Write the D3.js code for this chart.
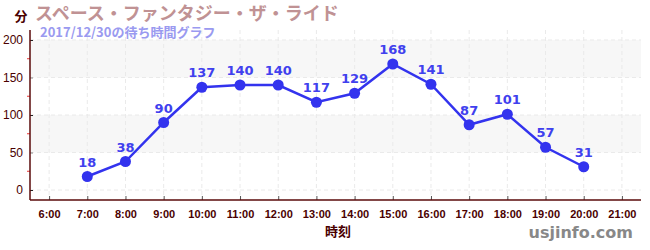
<!DOCTYPE html>
<html>
<head>
<meta charset="utf-8">
<script src="https://cdn.jsdelivr.net/npm/d3@7"></script>
<style>
  body { margin: 0; background: #fff; }
  svg { font-family: "Noto Sans CJK JP", "Noto Sans", sans-serif; }
</style>
</head>
<body>
<div id="chart"></div>
<script>
const hours = [7, 8, 9, 10, 11, 12, 13, 14, 15, 16, 17, 18, 19, 20];
const waits = [18, 38, 90, 137, 140, 140, 117, 129, 168, 141, 87, 101, 57, 31];
const xTicks = [6, 7, 8, 9, 10, 11, 12, 13, 14, 15, 16, 17, 18, 19, 20, 21];
const yTicks = [0, 50, 100, 150, 200];
const yMinorTicks = [25, 75, 125, 175];
const bands = [[50, 100], [150, 200]];

const title = "スペース・ファンタジー・ザ・ライド";
const subtitle = "2017/12/30の待ち時間グラフ";

const width = 650, height = 250;
const plot = { left: 30, right: 641, top: 30, bottom: 200 };

const svg = d3.select('#chart').append('svg')
    .attr('width', width)
    .attr('height', height);

const x = d3.scaleLinear().domain([5.5, 21.5]).range([plot.left, plot.right]);
const y = d3.scaleLinear().domain([-13.33, 213.33]).range([plot.bottom, plot.top]);

// background bands
svg.append('g').selectAll('rect')
    .data(bands)
    .join('rect')
    .attr('x', plot.left)
    .attr('width', plot.right - plot.left)
    .attr('y', d => y(d[1]))
    .attr('height', d => y(d[0]) - y(d[1]))
    .attr('fill', '#f7f7f7');

// grid lines
svg.append('g').selectAll('line')
    .data(xTicks)
    .join('line')
    .attr('x1', d => x(d)).attr('x2', d => x(d))
    .attr('y1', plot.top).attr('y2', plot.bottom)
    .attr('stroke', '#eaeaea')
    .attr('stroke-dasharray', '4,3');

svg.append('g').selectAll('line')
    .data(yTicks)
    .join('line')
    .attr('x1', plot.left).attr('x2', plot.right)
    .attr('y1', d => y(d)).attr('y2', d => y(d))
    .attr('stroke', '#eaeaea')
    .attr('stroke-dasharray', '4,3');

const axisColor = '#5a0a0a';
const labelColor = '#4a0000';

// y axis
const yAxis = svg.append('g')
    .attr('transform', `translate(${plot.left},0)`)
    .call(d3.axisLeft(y).tickValues(yTicks).tickSize(3).tickPadding(4));
yAxis.select('.domain').remove();
yAxis.selectAll('.tick line').attr('x2', 3).attr('stroke', d => d % 100 === 0 ? '#222' : '#888');
yAxis.selectAll('.tick text')
    .attr('fill', labelColor)
    .attr('font-size', 12)
    .attr('font-family', '"Liberation Sans", sans-serif');

svg.append('g').selectAll('line')
    .data(yMinorTicks)
    .join('line')
    .attr('x1', plot.left - 3).attr('x2', plot.left)
    .attr('y1', d => y(d)).attr('y2', d => y(d))
    .attr('stroke', '#ee3333');

svg.append('line')
    .attr('x1', plot.left).attr('x2', plot.left)
    .attr('y1', plot.top).attr('y2', plot.bottom)
    .attr('stroke', axisColor).attr('stroke-width', 1.5);

// x axis
const xAxis = svg.append('g')
    .attr('transform', `translate(0,${plot.bottom})`)
    .call(d3.axisBottom(x).tickValues(xTicks).tickSize(-4).tickPadding(10)
        .tickFormat(d => `${d}:00`));
xAxis.select('.domain').remove();
xAxis.selectAll('.tick line').attr('stroke', '#555');
xAxis.selectAll('.tick text')
    .attr('fill', labelColor)
    .attr('font-size', 11)
    .attr('font-weight', 'bold')
    .attr('font-family', '"Liberation Sans Narrow", "Liberation Sans", sans-serif');

svg.append('line')
    .attr('x1', plot.left).attr('x2', plot.right)
    .attr('y1', plot.bottom).attr('y2', plot.bottom)
    .attr('stroke', axisColor).attr('stroke-width', 1.5);

// line and points
const lineColor = '#3333ee';
svg.append('path')
    .datum(hours.map((h, i) => [h, waits[i]]))
    .attr('fill', 'none')
    .attr('stroke', lineColor)
    .attr('stroke-width', 2.5)
    .attr('d', d3.line().x(d => x(d[0])).y(d => y(d[1])));

svg.append('g').selectAll('circle')
    .data(hours.map((h, i) => [h, waits[i]]))
    .join('circle')
    .attr('cx', d => x(d[0]))
    .attr('cy', d => y(d[1]))
    .attr('r', 5.5)
    .attr('fill', lineColor);

svg.append('g').selectAll('text')
    .data(hours.map((h, i) => [h, waits[i]]))
    .join('text')
    .attr('x', d => x(d[0]))
    .attr('y', d => y(d[1]) - 10)
    .attr('text-anchor', 'middle')
    .attr('fill', '#4040ee')
    .attr('font-size', 13)
    .attr('font-weight', 'bold')
    .attr('font-family', '"DejaVu Sans", sans-serif')
    .text(d => d[1]);

// titles
svg.append('text')
    .attr('x', 35).attr('y', 20)
    .attr('fill', '#c09294')
    .attr('font-size', 18)
    .attr('font-weight', 'bold')
    .text(title);

svg.append('text')
    .attr('x', 40).attr('y', 37)
    .attr('fill', '#9a9af0')
    .attr('font-size', 13)
    .attr('font-weight', 'bold')
    .text(subtitle);

svg.append('text')
    .attr('x', 21).attr('y', 21)
    .attr('text-anchor', 'middle')
    .attr('fill', labelColor)
    .attr('font-size', 13)
    .attr('font-weight', 'bold')
    .text('分');

svg.append('text')
    .attr('x', 338).attr('y', 236)
    .attr('text-anchor', 'middle')
    .attr('fill', labelColor)
    .attr('font-size', 13)
    .attr('font-weight', 'bold')
    .text('時刻');

svg.append('text')
    .attr('x', 633).attr('y', 238)
    .attr('text-anchor', 'end')
    .attr('fill', '#888')
    .attr('font-size', 16)
    .attr('font-weight', 'bold')
    .attr('font-family', '"DejaVu Sans", sans-serif')
    .text('usjinfo.com');
</script>
</body>
</html>
